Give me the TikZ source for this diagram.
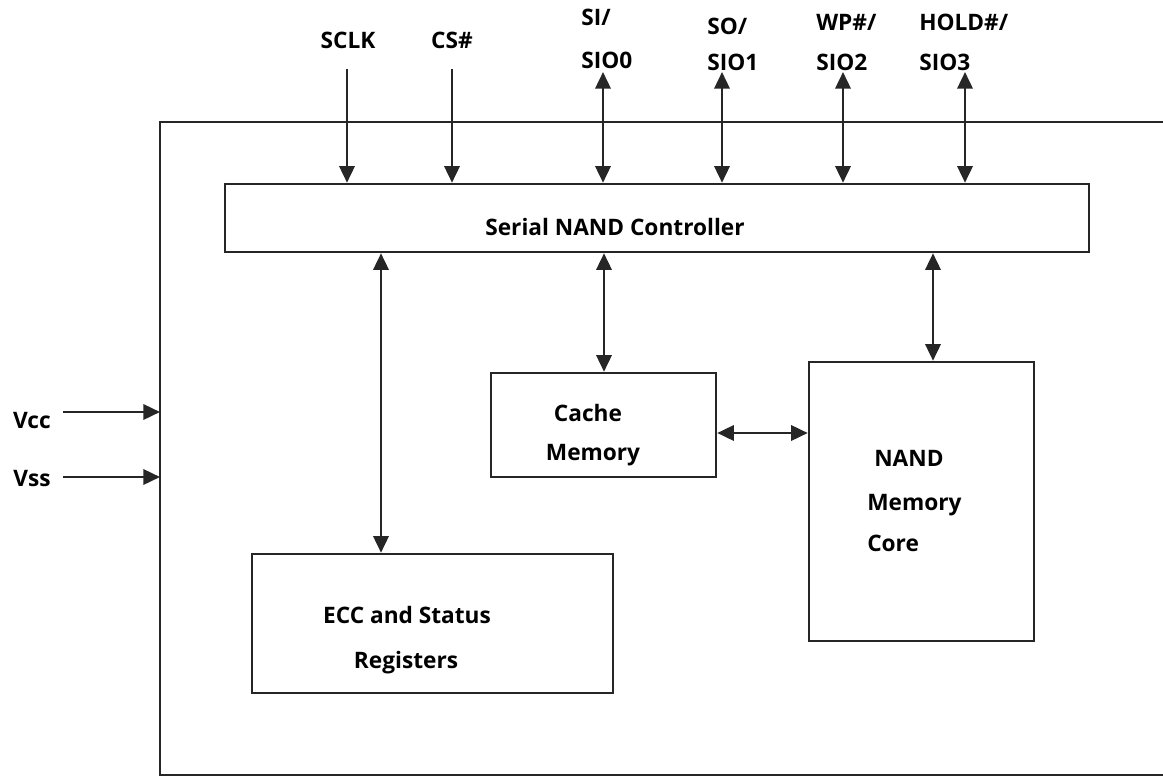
\documentclass[tikz,border=0pt]{standalone}
\usepackage{fontspec}
\setmainfont{Open Sans}
\usetikzlibrary{arrows.meta}
\tikzset{
  box/.style={draw=black!85, line width=1.9pt, inner sep=0pt, fill=none},
  lbl/.style={inner sep=0pt, font=\bfseries\fontsize{17pt}{20pt}\selectfont, text height=12.1pt, text depth=0pt},
  conn/.style={line width=1.9pt, draw=black!85, -{Triangle[length=12.5pt,width=11.5pt]}},
  bconn/.style={line width=1.9pt, draw=black!85, {Triangle[length=12.5pt,width=11.5pt]}-{Triangle[length=12.5pt,width=11.5pt]}},
}
\begin{document}
\begin{tikzpicture}[x=0.75pt,y=-0.75pt]
\useasboundingbox (0,0) rectangle (1163,778);
% outer chip outline (open on the right)
\draw[line width=1.9pt, draw=black!85] (1163,122) -- (160,122) -- (160,775) -- (1163,775);
\coordinate (chipL) at (160,450);

% blocks
\node[box, minimum width=648pt, minimum height=51pt] (ctrl) at (657,218) {};
\node[box, minimum width=168.75pt, minimum height=78pt] (cache) at (603.5,425) {};
\node[box, minimum width=168.75pt, minimum height=209.25pt] (nand) at (921.5,501.5) {};
\node[box, minimum width=270.75pt, minimum height=104.25pt] (ecc) at (432.5,623.5) {};

% block texts
\node[lbl] (tctrl) at (615,227) {Serial NAND Controller};
\node[lbl] (tcache1) at (588,413) {Cache};
\node[lbl] (tcache2) at (593,452) {Memory};
\node[lbl, anchor=west] (tnand1) at (874,458) {NAND};
\node[lbl, anchor=west] (tnand2) at (867,502) {Memory};
\node[lbl, anchor=west] (tnand3) at (867,543) {Core};
\node[lbl] (tecc1) at (407,615) {ECC and Status};
\node[lbl] (tecc2) at (406,660) {Registers};

% pin labels
\node[lbl] (lsclk) at (348,40) {SCLK};
\node[lbl] (lcs) at (452,40) {CS\#};
\node[lbl, anchor=west] (lsi1) at (581,17) {SI/};
\node[lbl, anchor=west] (lsi2) at (581,60) {SIO0};
\node[lbl, anchor=west] (lso1) at (707,26) {SO/};
\node[lbl, anchor=west] (lso2) at (707,62) {SIO1};
\node[lbl, anchor=west] (lwp1) at (816,22) {WP\#/};
\node[lbl, anchor=west] (lwp2) at (816,62) {SIO2};
\node[lbl, anchor=west] (lho1) at (919,22) {HOLD\#/};
\node[lbl, anchor=west] (lho2) at (919,62) {SIO3};
\node[lbl] (lvcc) at (32,420) {Vcc};
\node[lbl] (lvss) at (32,478) {Vss};

% pin connector ends
\coordinate (psclk) at (347,69);
\coordinate (pcs) at (452,69);
\coordinate (psi) at (603,72);
\coordinate (pso) at (722,72);
\coordinate (pwp) at (843,72);
\coordinate (pho) at (965,72);
\coordinate (pvcc) at (63,412);
\coordinate (pvss) at (63,477);

\draw[conn] (psclk) -- (psclk |- ctrl.north);
\draw[conn] (pcs) -- (pcs |- ctrl.north);
\draw[bconn] (psi) -- (psi |- ctrl.north);
\draw[bconn] (pso) -- (pso |- ctrl.north);
\draw[bconn] (pwp) -- (pwp |- ctrl.north);
\draw[bconn] (pho) -- (pho |- ctrl.north);

\draw[conn] (pvcc) -- (pvcc -| chipL);
\draw[conn] (pvss) -- (pvss -| chipL);

% internal connectors
\coordinate (xecc) at (381,0);
\coordinate (xcache) at (604,0);
\coordinate (xnand) at (933,0);
\draw[bconn] (xecc |- ctrl.south) -- (xecc |- ecc.north);
\draw[bconn] (xcache |- ctrl.south) -- (xcache |- cache.north);
\draw[bconn] (xnand |- ctrl.south) -- (xnand |- nand.north);
\coordinate (ycm) at (0,433);
\draw[bconn] (ycm -| cache.east) -- (ycm -| nand.west);
\end{tikzpicture}
\end{document}
